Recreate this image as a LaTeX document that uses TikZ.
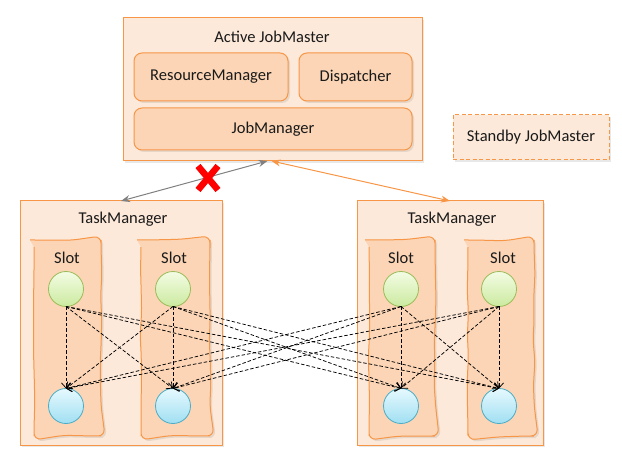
\documentclass[tikz,border=0pt]{standalone}
\usepackage{fontspec}
\setmainfont{Carlito}
\usetikzlibrary{arrows.meta,shadows,decorations.pathmorphing}
\definecolor{boxfill}{HTML}{FDE9D9}
\definecolor{innerfill}{HTML}{FBD5B5}
\definecolor{orangeline}{HTML}{F79646}
\definecolor{greenA}{HTML}{F3FCE4}
\definecolor{greenB}{HTML}{CBEA9F}
\definecolor{greenline}{HTML}{9BBB59}
\definecolor{blueA}{HTML}{E6F9FE}
\definecolor{blueB}{HTML}{A0DFF2}
\definecolor{blueline}{HTML}{4BACC6}
\definecolor{txtcol}{HTML}{1A1A1A}
\begin{document}
\pgfmathsetseed{11}
\begin{tikzpicture}[x=1pt,y=-1pt,
  font=\fontsize{16.5}{19}\selectfont,
  softshadow/.style={drop shadow={opacity=0.18, shadow xshift=2pt, shadow yshift=-2pt}},
  outerbox/.style={draw=orangeline, fill=boxfill, line width=1pt, inner sep=0pt, outer sep=0pt, softshadow},
  innerbox/.style={draw=orangeline, fill=innerfill, line width=1pt, rounded corners=8pt, inner sep=0pt, outer sep=0pt, text=txtcol, softshadow},
  standbybox/.style={draw=orangeline, fill=boxfill, line width=1pt, dash pattern=on 4pt off 2.5pt, inner sep=0pt, outer sep=0pt, text=txtcol, softshadow},
  slotbox/.style={draw=orangeline, fill=innerfill, line width=1pt, rounded corners=7pt, decorate, decoration={random steps, segment length=22pt, amplitude=1pt}, softshadow},
  txt/.style={inner sep=0pt, text=txtcol},
  gcirc/.style={circle, minimum size=35pt, inner sep=0pt, outer sep=0pt, draw=greenline, line width=0.8pt, top color=greenA, bottom color=greenB},
  bcirc/.style={circle, minimum size=35pt, inner sep=0pt, outer sep=0pt, draw=blueline, line width=0.8pt, top color=blueA, bottom color=blueB},
  flow/.style={draw=black, line width=0.75pt, dash pattern=on 3.5pt off 2pt, -{Straight Barb[length=5pt,width=9pt]}},
  linkgray/.style={draw=gray, line width=1pt, {Stealth[length=9pt,width=7pt]}-{Stealth[length=9pt,width=7pt]}},
  linkorange/.style={draw=orangeline, line width=1pt, {Stealth[length=9pt,width=7pt]}-{Stealth[length=9pt,width=7pt]}},
  xmarkstyle/.style={draw=red, line width=6.5pt}
]
\useasboundingbox (0,0) rectangle (622,465);

% Active JobMaster
\node[outerbox, minimum width=299pt, minimum height=143pt] (jm) at (272.5,89.5) {};
\node[txt] (jmtitle) at (272,37) {Active JobMaster};
\node[innerbox, minimum width=154pt, minimum height=48pt] (rm) at (211,77) {ResourceManager};
\node[innerbox, minimum width=113pt, minimum height=48pt] (disp) at (355.5,77) {Dispatcher};
\node[innerbox, minimum width=278pt, minimum height=42pt] (jmgr) at (273,129) {JobManager};

% Standby
\node[standbybox, minimum width=156pt, minimum height=45pt] (sb) at (531,137.5) {Standby JobMaster};

% TaskManagers
\node[outerbox, minimum width=202pt, minimum height=244pt] (tmL) at (121,323) {};
\node[txt] (tmLt) at (123,219) {TaskManager};
\node[outerbox, minimum width=186pt, minimum height=244pt] (tmR) at (450,323) {};
\node[txt] (tmRt) at (452,219) {TaskManager};

% Slots
\draw[slotbox] (34,240) rectangle (101,436);
\draw[slotbox] (141,240) rectangle (210,436);
\draw[slotbox] (369,240) rectangle (435,436);
\draw[slotbox] (468,240) rectangle (534,436);
\node[txt] (s1) at (67,258) {Slot};
\node[txt] (s2) at (174,258) {Slot};
\node[txt] (s3) at (401,258) {Slot};
\node[txt] (s4) at (503,258) {Slot};

% circles
\foreach \i/\x in {1/66,2/173,3/401,4/499}{
  \node[gcirc] (g\i) at (\x,289) {};
  \node[bcirc] (b\i) at (\x,406) {};
}

% flows
\foreach \i in {1,2,3,4}{
  \foreach \j in {1,2,3,4}{
    \draw[flow] (g\i.south) -- (b\j.north);
  }
}

% links
\draw[linkgray] (tmL.north) -- ([xshift=-5pt]jm.south);
\draw[linkorange] ([xshift=-1pt]jm.south) -- (tmR.north);

% red X
\coordinate (xm) at (208,178);
\draw[xmarkstyle] ([shift={(-10,-12)}]xm) -- ([shift={(10,12)}]xm);
\draw[xmarkstyle] ([shift={(10,-12)}]xm) -- ([shift={(-10,12)}]xm);
\end{tikzpicture}
\end{document}
